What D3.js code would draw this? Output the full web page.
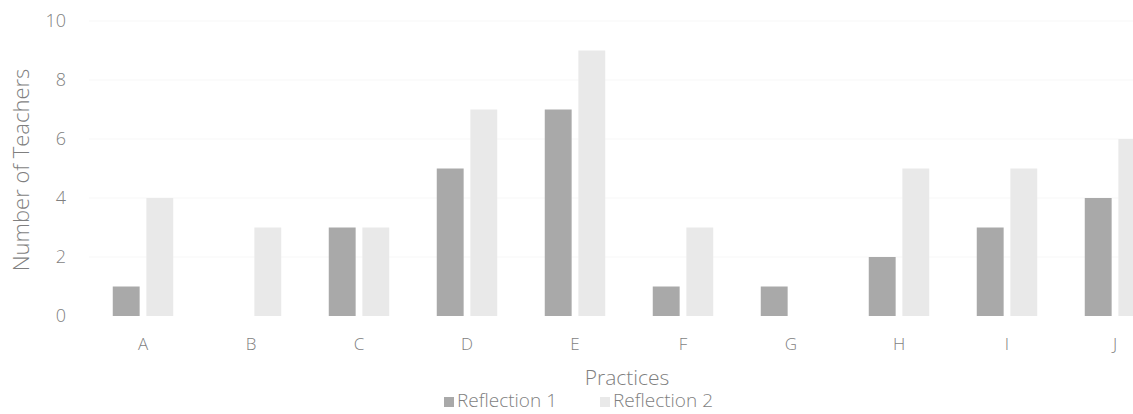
<!DOCTYPE html>
<html><head><meta charset="utf-8">
<script src="https://cdn.jsdelivr.net/npm/d3@7/dist/d3.min.js"></script>
<style>body{margin:0;background:#fff}text{font-family:"Open Sans",sans-serif;fill:#7f7f7f}</style>
</head><body><svg id="c" width="1133" height="414"></svg>
<script>
const categories = ["A","B","C","D","E","F","G","H","I","J"];
const seriesNames = ["Reflection 1","Reflection 2"];
const reflection1 = [1,0,3,5,7,1,1,2,3,4];
const reflection2 = [4,3,3,7,9,3,0,5,5,6];
const yTicks = [0,2,4,6,8,10];
const colors = ["#a9a9a9","#e9e9e9"];

const svg = d3.select("#c");
const x = d3.scaleBand().domain(categories).range([89,1169]).paddingInner(0.44).paddingOuter(0.22);
const x1 = d3.scaleBand().domain(seriesNames).range([0,x.bandwidth()]).paddingInner(0.2);
const y = d3.scaleLinear().domain([0,10]).range([316,21]);

// gridlines (very faint)
svg.append("g").selectAll("line").data(yTicks.slice(1)).join("line")
  .attr("x1",89).attr("x2",1133).attr("y1",d=>y(d)).attr("y2",d=>y(d))
  .attr("stroke","#f7f7f7").attr("stroke-width",1);

const yAxis = svg.append("g").attr("transform","translate(66,0)")
  .call(d3.axisLeft(y).tickValues(yTicks).tickSize(0).tickPadding(0));
yAxis.select(".domain").remove();
yAxis.selectAll("text").attr("font-size",18).attr("fill","#808080").style("font-family","'Open Sans',sans-serif").style("font-weight",300);

const xAxis = svg.append("g").attr("transform","translate(0,336)")
  .call(d3.axisBottom(x).tickSize(0).tickPadding(2));
xAxis.select(".domain").remove();
xAxis.selectAll("text").attr("font-size",17).attr("fill","#808080").style("font-family","'Open Sans',sans-serif").style("font-weight",300);

const data = categories.map((c,i)=>({c, vals:[reflection1[i],reflection2[i]]}));
const g = svg.append("g").selectAll("g").data(data).join("g")
  .attr("transform",d=>`translate(${x(d.c)},0)`);
g.selectAll("rect").data(d=>d.vals.map((v,k)=>({k,v}))).join("rect")
  .attr("x",d=>x1(seriesNames[d.k])).attr("width",x1.bandwidth())
  .attr("y",d=>y(d.v)).attr("height",d=>y(0)-y(d.v))
  .attr("fill",d=>colors[d.k]);

svg.append("text").attr("transform","translate(29,170) rotate(-90)")
  .attr("text-anchor","middle").attr("font-size",22).style("font-weight",300).text("Number of Teachers");
svg.append("text").attr("x",627).attr("y",385).attr("text-anchor","middle")
  .attr("font-size",21).style("font-weight",300).text("Practices");

const legX = [444,600];
const lg = svg.append("g").selectAll("g").data(seriesNames).join("g")
  .attr("transform",(d,i)=>`translate(${legX[i]},0)`);
lg.append("rect").attr("x",0).attr("y",397).attr("width",10).attr("height",10).attr("fill",(d,i)=>colors[i]);
lg.append("text").attr("x",13).attr("y",407).attr("font-size",19).style("font-weight",300).text(d=>d);
</script></body></html>
